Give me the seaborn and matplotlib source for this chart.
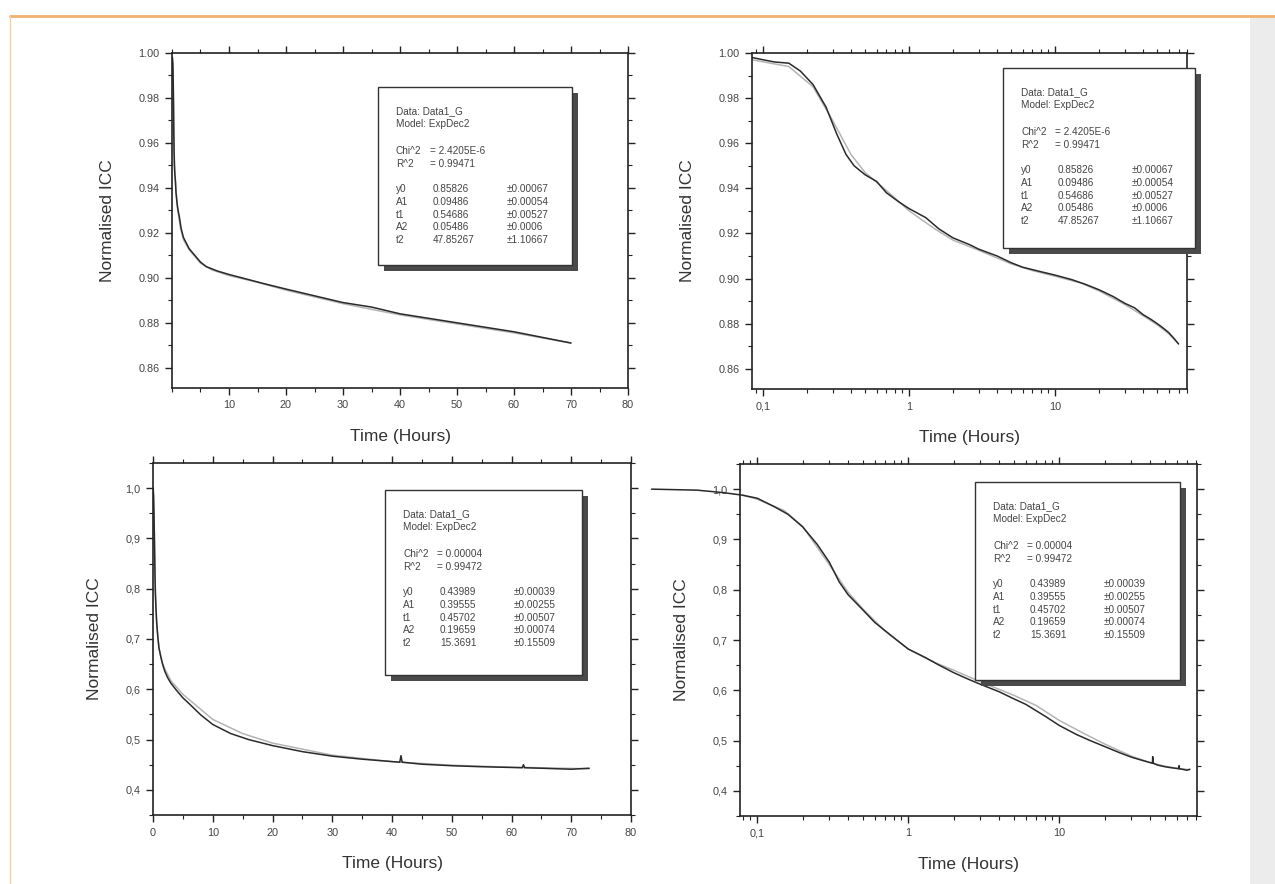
import matplotlib
matplotlib.use("Agg")
import matplotlib.pyplot as plt
import seaborn as sns
import pandas as pd
from matplotlib.patches import Rectangle
from matplotlib.lines import Line2D
from matplotlib.ticker import MultipleLocator, FixedLocator, FuncFormatter, LogLocator, NullFormatter

# ---------------- data ----------------
# top row: Data1_G, normalised ICC vs time (hours)
top_time = [0.084, 0.10, 0.12, 0.15, 0.18, 0.22, 0.27, 0.32, 0.37, 0.42, 0.50, 0.60, 0.70,
            0.85, 1.0, 1.3, 1.6, 2.0, 2.6, 3.0, 4.0, 5.0, 6.0, 8.0, 10, 13, 16, 20, 25, 30,
            35, 40, 45, 50, 55, 60, 65, 70]
top_icc = [0.998, 0.997, 0.996, 0.9955, 0.992, 0.986, 0.976, 0.964, 0.955, 0.950, 0.946, 0.943,
           0.938, 0.934, 0.931, 0.927, 0.922, 0.918, 0.915, 0.913, 0.910, 0.907, 0.905, 0.903,
           0.9015, 0.8995, 0.8975, 0.895, 0.892, 0.889, 0.887, 0.884, 0.882, 0.880, 0.878,
           0.876, 0.8735, 0.871]
top_fit_time = [0.084, 0.15, 0.22, 0.30, 0.40, 0.50, 0.70, 1.0, 1.5, 2.0, 3.0, 5.0, 7.0,
                10, 15, 20, 30, 40, 50, 60, 70]
top_fit_icc = [0.997, 0.994, 0.985, 0.970, 0.955, 0.947, 0.939, 0.930, 0.922, 0.917, 0.9125,
               0.9065, 0.9035, 0.901, 0.898, 0.8945, 0.8885, 0.8835, 0.8795, 0.8755, 0.871]
top_params = [("y0", "0.85826", "\u00b10.00067"), ("A1", "0.09486", "\u00b10.00054"),
              ("t1", "0.54686", "\u00b10.00527"), ("A2", "0.05486", "\u00b10.0006"),
              ("t2", "47.85267", "\u00b11.10667")]
top_stats = [("Chi^2", "= 2.4205E-6"), ("R^2", "= 0.99471")]

# bottom row
bottom_time = [0.02, 0.04, 0.06, 0.08, 0.10, 0.13, 0.16, 0.20, 0.25, 0.30, 0.35, 0.40, 0.50,
               0.60, 0.80, 1.0, 1.3, 1.6, 2.0, 2.5, 3.0, 4.0, 5.0, 6.0, 8.0, 10, 13, 16, 20,
               25, 30, 35, 41.3, 41.5, 41.7, 45, 50, 55, 61.8, 62.0, 62.2, 65, 70, 73]
bottom_icc = [1.0, 0.998, 0.993, 0.988, 0.982, 0.965, 0.950, 0.925, 0.890, 0.855, 0.815, 0.790,
              0.760, 0.735, 0.705, 0.682, 0.665, 0.650, 0.635, 0.622, 0.612, 0.597, 0.583,
              0.572, 0.549, 0.530, 0.512, 0.500, 0.488, 0.476, 0.467, 0.461, 0.455, 0.468,
              0.455, 0.451, 0.448, 0.446, 0.444, 0.450, 0.444, 0.443, 0.441, 0.443]
bottom_fit_time = [0.08, 0.10, 0.15, 0.20, 0.30, 0.40, 0.50, 0.70, 1.0, 1.5, 2.0, 3.0, 5.0,
                   7.0, 10, 15, 20, 30, 40, 50, 60, 73]
bottom_fit_icc = [0.988, 0.980, 0.958, 0.926, 0.850, 0.795, 0.762, 0.718, 0.682, 0.655, 0.640,
                  0.617, 0.590, 0.570, 0.540, 0.512, 0.493, 0.469, 0.456, 0.449, 0.445, 0.442]
bottom_params = [("y0", "0.43989", "\u00b10.00039"), ("A1", "0.39555", "\u00b10.00255"),
                 ("t1", "0.45702", "\u00b10.00507"), ("A2", "0.19659", "\u00b10.00074"),
                 ("t2", "15.3691", "\u00b10.15509")]
bottom_stats = [("Chi^2", "= 0.00004"), ("R^2", "= 0.99472")]

# ---------------- style ----------------
sns.set_theme(style="ticks")
plt.rcParams["font.family"] = ["Liberation Sans", "DejaVu Sans"]

W, H = 1275, 884
fig = plt.figure(figsize=(W / 100, H / 100), dpi=100)
fig.patch.set_facecolor("white")


def fx(px):
    return px / W


def fy(py):
    return 1 - py / H


def make_ax(l, t, r, b):
    return fig.add_axes([fx(l), fy(b), fx(r) - fx(l), fy(t) - fy(b)])


top_df = pd.DataFrame({"Time": top_time, "ICC": top_icc})
top_fit_df = pd.DataFrame({"Time": top_fit_time, "ICC": top_fit_icc})
bot_df = pd.DataFrame({"Time": bottom_time, "ICC": bottom_icc})
bot_fit_df = pd.DataFrame({"Time": bottom_fit_time, "ICC": bottom_fit_icc})

axes_spec = [
    ((172, 53, 628, 388), top_df, top_fit_df, False, (0.851, 1.0), "top", False),
    ((752, 53, 1187, 389), top_df, top_fit_df, True, (0.851, 1.0), "top", False),
    ((153, 463, 631, 815), bot_df, bot_fit_df, False, (0.35, 1.05), "bot", False),
    ((740, 464, 1197, 816), bot_df, bot_fit_df, True, (0.35, 1.05), "bot", True),
]

tick_color = "#444444"
for (l, t, r, b), df, fdf, logx, ylim, fmt, noclip in axes_spec:
    ax = make_ax(l, t, r, b)
    ax.set_facecolor("white")
    sns.lineplot(data=fdf, x="Time", y="ICC", ax=ax, color="#b4b4b4", lw=1.1,
                 estimator=None, sort=False, errorbar=None)
    kw = {"clip_on": False} if noclip else {}
    sns.lineplot(data=df, x="Time", y="ICC", ax=ax, color="#2a2a2a", lw=1.1,
                 estimator=None, sort=False, errorbar=None, **kw)
    if logx:
        ax.set_xscale("log")
        ax.set_xlim(0.084 if fmt == "top" else 0.077, 80 if fmt == "top" else 81.5)
        ax.xaxis.set_major_locator(FixedLocator([0.1, 1, 10]))
        ax.xaxis.set_major_formatter(FuncFormatter(
            lambda v, p: {0.1: "0,1", 1.0: "1", 10.0: "10"}.get(round(v, 3), "")))
        ax.xaxis.set_minor_locator(LogLocator(base=10, subs=range(2, 10), numticks=20))
        ax.xaxis.set_minor_formatter(NullFormatter())
    else:
        ax.set_xlim(0, 80)
        if fmt == "top":
            ax.xaxis.set_major_locator(FixedLocator([10, 20, 30, 40, 50, 60, 70, 80]))
        else:
            ax.xaxis.set_major_locator(FixedLocator([0, 10, 20, 30, 40, 50, 60, 70, 80]))
        ax.xaxis.set_major_formatter(FuncFormatter(lambda v, p: f"{v:.0f}"))
        ax.xaxis.set_minor_locator(MultipleLocator(5))
    ax.set_ylim(*ylim)
    if fmt == "top":
        ax.yaxis.set_major_locator(FixedLocator([0.86, 0.88, 0.90, 0.92, 0.94, 0.96, 0.98, 1.00]))
        ax.yaxis.set_major_formatter(FuncFormatter(lambda v, p: f"{v:.2f}"))
        ax.yaxis.set_minor_locator(MultipleLocator(0.01))
    else:
        ax.yaxis.set_major_locator(FixedLocator([0.4, 0.5, 0.6, 0.7, 0.8, 0.9, 1.0]))
        ax.yaxis.set_major_formatter(FuncFormatter(lambda v, p: f"{v:.1f}".replace(".", ",")))
        ax.yaxis.set_minor_locator(MultipleLocator(0.05))
    ax.tick_params(which="both", direction="out", top=True, right=True,
                   labeltop=False, labelright=False, color="#222222")
    ax.tick_params(which="major", length=5, width=1.0, labelsize=7.8, labelcolor=tick_color, pad=4)
    ax.tick_params(which="minor", length=3, width=0.8)
    for s in ax.spines.values():
        s.set_visible(True)
        s.set_color("#222222")
        s.set_linewidth(1.2)
    ax.set_xlabel("Time (Hours)", fontsize=12.5, color="#333333", labelpad=13)
    ax.set_ylabel("Normalised ICC", fontsize=12.5, color="#333333", labelpad=17)

# ---------------- parameter boxes ----------------
boxes = [
    ((378, 87, 572, 265), top_stats, top_params),
    ((1003, 68, 1195, 248), top_stats, top_params),
    ((385, 490, 582, 675), bottom_stats, bottom_params),
    ((975, 482, 1180, 680), bottom_stats, bottom_params),
]
for (l, t, r, b), stats, params in boxes:
    sh = 6
    fig.add_artist(Rectangle((fx(l + sh), fy(b + sh)), fx(r) - fx(l), fy(t) - fy(b),
                             transform=fig.transFigure, facecolor="#4a4a4a", edgecolor="none", zorder=5))
    fig.add_artist(Rectangle((fx(l), fy(b)), fx(r) - fx(l), fy(t) - fy(b),
                             transform=fig.transFigure, facecolor="white", edgecolor="#333333",
                             lw=1.0, zorder=6))
    x0 = l + 18
    x1 = l + 55
    x2 = l + 129
    y = t + 24
    tk = dict(fontsize=7.2, color="#444444", va="center", ha="left", zorder=7)
    fig.text(fx(x0), fy(y), "Data: Data1_G", **tk)
    fig.text(fx(x0), fy(y + 13), "Model: ExpDec2", **tk)
    y = y + 40
    for name, val in stats:
        fig.text(fx(x0), fy(y), name, **tk)
        fig.text(fx(x0 + 34), fy(y), val, **tk)
        y += 13
    y += 12
    for name, val, err in params:
        fig.text(fx(x0), fy(y), name, **tk)
        fig.text(fx(x1), fy(y), val, **tk)
        fig.text(fx(x2), fy(y), err, **tk)
        y += 12.8

# ---------------- scan frame decoration ----------------
fig.add_artist(Line2D([fx(10), 1], [fy(16), fy(16)], transform=fig.transFigure,
                      color="#f0b070", lw=2.0))
fig.add_artist(Line2D([fx(10), fx(10)], [fy(16), fy(884)], transform=fig.transFigure,
                      color="#f3cfa5", lw=1.0))
fig.add_artist(Rectangle((fx(1250), 0), fx(25), fy(17), transform=fig.transFigure,
                         facecolor="#ececec", edgecolor="none"))

fig.savefig("out.png", dpi=100, facecolor="white")
